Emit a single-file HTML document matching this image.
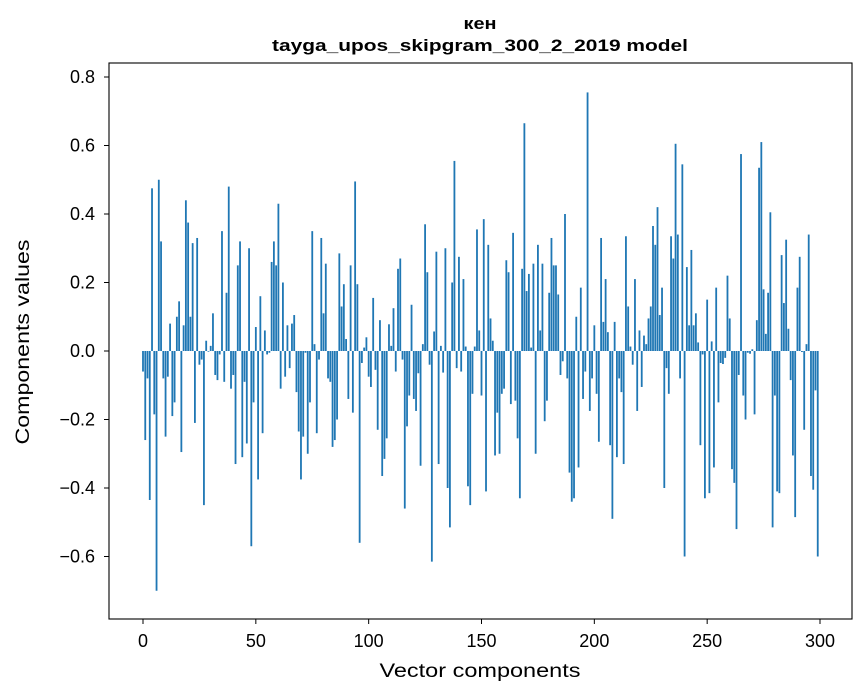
<!DOCTYPE html>
<html><head><meta charset="utf-8"><style>
html,body{margin:0;padding:0;background:#fff;}
svg{display:block;font-family:"Liberation Sans","DejaVu Sans",sans-serif;}
</style></head><body>
<svg id="chart" width="867" height="696" viewBox="0 0 867 696" xmlns="http://www.w3.org/2000/svg">
<rect width="867" height="696" fill="#fff"/>
<text x="480" y="29" text-anchor="middle" font-size="17" font-weight="bold" textLength="33" lengthAdjust="spacingAndGlyphs">кен</text>
<text x="480" y="51" text-anchor="middle" font-size="17" font-weight="bold" textLength="416" lengthAdjust="spacingAndGlyphs">tayga_upos_skipgram_300_2_2019 model</text>
<g id="bars"></g>
<g id="axes"></g>
<rect x="109" y="63" width="743" height="556" fill="none" stroke="#000" stroke-width="1.1"/>
<text x="480" y="677" text-anchor="middle" font-size="19" textLength="201" lengthAdjust="spacingAndGlyphs">Vector components</text>
<text transform="translate(29,342) rotate(-90)" text-anchor="middle" font-size="19" textLength="205" lengthAdjust="spacingAndGlyphs">Components values</text>
</svg>
<script>
const values = [
-0.06,-0.26,-0.08,-0.435,0.475,-0.185,-0.70,0.50,0.32,-0.08,
-0.25,-0.075,0.08,-0.19,-0.15,0.10,0.145,-0.295,0.075,0.44,
0.375,0.10,0.315,-0.21,0.33,-0.04,-0.025,-0.45,0.03,-0.002,
0.015,0.11,-0.07,-0.085,-0.01,0.35,-0.09,0.17,0.48,-0.11,
-0.07,-0.33,0.25,0.32,-0.31,-0.09,-0.27,0.30,-0.57,-0.15,
0.07,-0.375,0.16,-0.24,0.06,-0.01,-0.005,0.26,0.32,0.25,
0.43,-0.11,0.20,-0.075,0.075,-0.05,0.08,0.105,-0.12,-0.235,
-0.375,-0.25,-0.005,-0.30,-0.15,0.35,0.02,-0.24,-0.025,0.33,
0.11,0.255,-0.08,-0.09,-0.28,-0.26,-0.20,0.285,0.13,0.195,
0.035,-0.14,0.25,-0.18,0.495,0.195,-0.56,-0.035,0.01,0.04,
-0.075,-0.105,0.155,-0.055,-0.23,0.09,-0.365,-0.315,-0.255,0.078,
0.015,0.125,-0.06,0.24,0.27,-0.025,-0.46,-0.22,-0.13,0.135,
-0.14,-0.175,-0.065,-0.335,0.02,0.37,0.23,-0.04,-0.615,0.057,
0.29,-0.33,0.015,-0.063,0.30,-0.40,-0.515,0.20,0.555,-0.05,
0.275,-0.06,0.21,0.013,-0.395,-0.45,-0.125,0.013,0.355,0.06,
-0.13,0.385,-0.41,0.31,0.095,0.03,-0.305,-0.18,-0.30,-0.125,
-0.11,0.265,0.23,-0.155,0.345,-0.145,-0.255,-0.43,0.24,0.665,
0.175,0.225,0.01,0.255,-0.30,0.31,0.06,0.255,-0.205,-0.145,
0.17,0.33,0.25,0.25,0.165,-0.07,-0.03,0.40,-0.08,-0.355,
-0.44,-0.43,0.10,-0.34,0.185,-0.14,-0.06,0.755,-0.175,-0.08,
0.075,-0.125,-0.265,0.33,0.085,0.21,0.055,-0.275,-0.49,0.085,
-0.31,-0.08,-0.12,-0.33,0.335,0.13,0.013,-0.04,0.21,-0.175,
0.06,-0.105,0.045,0.02,0.095,0.13,0.365,0.31,0.42,0.105,
0.185,-0.40,-0.05,-0.125,0.335,0.27,0.605,0.34,-0.08,0.545,
-0.60,0.245,0.075,0.295,0.075,0.11,0.025,-0.275,-0.01,-0.43,
0.15,-0.415,0.028,-0.34,0.185,-0.15,-0.035,-0.038,-0.02,0.22,
0.095,-0.345,-0.385,-0.52,-0.07,0.575,-0.13,-0.20,-0.005,-0.008,
0.005,-0.185,0.09,0.535,0.61,0.18,0.05,0.17,0.405,-0.515,
-0.13,-0.41,-0.415,0.28,0.14,0.325,0.065,-0.085,-0.305,-0.485,
0.185,0.275,-0.003,-0.23,0.02,0.34,-0.365,-0.405,-0.115,-0.60
];
const xTicks = [0,50,100,150,200,250,300];
const yTicks = [-0.6,-0.4,-0.2,0.0,0.2,0.4,0.6,0.8];
const yTickLabels = ["\u22120.6","\u22120.4","\u22120.2","0.0","0.2","0.4","0.6","0.8"];

const NS = "http://www.w3.org/2000/svg";
function xScale(i){ return 143 + i * (677/300); }
function yScale(v){ return 351 - v * 342.5; }
const barsG = document.getElementById('bars');
const bw = 0.8 * 677/300;
values.forEach(function(v, i){
  const r = document.createElementNS(NS, 'rect');
  const y0 = yScale(0), y1 = yScale(v);
  r.setAttribute('x', xScale(i) - bw/2);
  r.setAttribute('y', Math.min(y0, y1));
  r.setAttribute('width', bw);
  r.setAttribute('height', Math.max(Math.abs(y1 - y0), 0.3));
  r.setAttribute('fill', '#1f77b4');
  
  
  barsG.appendChild(r);
});
const axesG = document.getElementById('axes');
xTicks.forEach(function(t){
  const x = xScale(t);
  const l = document.createElementNS(NS, 'line');
  l.setAttribute('x1', x); l.setAttribute('x2', x);
  l.setAttribute('y1', 619); l.setAttribute('y2', 624);
  l.setAttribute('stroke', '#000'); l.setAttribute('stroke-width', '1');
  
  
  axesG.appendChild(l);
  const tx = document.createElementNS(NS, 'text');
  tx.setAttribute('x', x); tx.setAttribute('y', 647);
  tx.setAttribute('text-anchor', 'middle'); tx.setAttribute('font-size', '18');
  tx.textContent = String(t);
  
  
  axesG.appendChild(tx);
});
yTicks.forEach(function(t, k){
  const y = yScale(t);
  const l = document.createElementNS(NS, 'line');
  l.setAttribute('x1', 104); l.setAttribute('x2', 109);
  l.setAttribute('y1', y); l.setAttribute('y2', y);
  l.setAttribute('stroke', '#000'); l.setAttribute('stroke-width', '1');
  
  
  axesG.appendChild(l);
  const tx = document.createElementNS(NS, 'text');
  tx.setAttribute('x', 95); tx.setAttribute('y', y + 6);
  tx.setAttribute('text-anchor', 'end'); tx.setAttribute('font-size', '18');
  tx.textContent = yTickLabels[k];
  
  
  axesG.appendChild(tx);
});
</script>
</body></html>
